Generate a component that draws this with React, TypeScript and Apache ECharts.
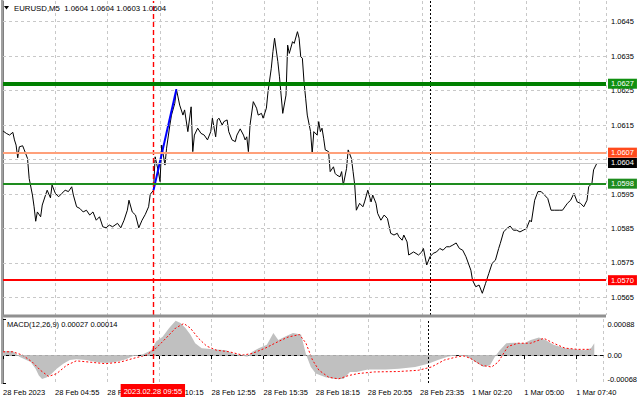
import React, { useEffect, useRef } from 'react';
import * as echarts from 'echarts';

// ---- data ----
const timeLabels = [
  '28 Feb 2023', '28 Feb 04:55', '28 Feb 07:35', '28 Feb 10:15', '28 Feb 12:55', '28 Feb 15:35',
  '28 Feb 18:15', '28 Feb 20:55', '28 Feb 23:35', '1 Mar 02:20', '1 Mar 05:00', '1 Mar 07:40',
];
const barsPerLabel = 32;
const priceTicks = [1.0565, 1.0575, 1.0585, 1.0595, 1.0605, 1.0615, 1.0625, 1.0635, 1.0645];
// 1.0605 is hidden behind the price boxes in the reference
const priceTickLabels = [1.0565, 1.0575, 1.0585, 1.0595, 1.0615, 1.0625, 1.0635, 1.0645];

const priceBars = [
  0, 2, 4, 6, 7, 8, 9, 10, 12, 13, 15, 16, 18, 19, 20, 21, 23, 24, 26, 27,
  29, 30, 32, 34, 36, 38, 40, 42, 43, 45, 47, 49, 51, 53, 55, 57, 59, 61, 63, 65,
  67, 70, 72, 74, 76, 77, 79, 81, 83, 85, 87, 89, 90, 92, 93, 95, 96, 97, 99, 100,
  102, 103, 105, 106, 108, 110, 111, 113, 115, 116, 117, 119, 121, 123, 125, 127, 128, 130, 131, 132,
  134, 135, 137, 138, 140, 142, 143, 145, 147, 148, 149, 150, 151, 153, 155, 156, 158, 159, 161, 162,
  164, 165, 166, 168, 169, 171, 173, 174, 175, 177, 178, 180, 181, 182, 183, 184, 185, 186, 188, 189,
  190, 192, 193, 194, 195, 196, 197, 199, 200, 202, 203, 204, 206, 207, 208, 210, 211, 213, 214, 215,
  216, 218, 220, 221, 223, 225, 226, 228, 229, 231, 233, 235, 237, 239, 241, 242, 244, 245, 247, 248,
  251, 254, 256, 257, 259, 261, 263, 265, 267, 269, 271, 273, 275, 277, 279, 281, 283, 286, 287, 289,
  291, 293, 295, 297, 299, 301, 303, 304, 306, 308, 310, 312, 314, 316, 318, 320, 322, 323, 325, 327,
  329, 331, 333, 335, 337, 340, 342, 345, 347, 349, 351, 353, 355, 357, 358, 360, 361, 363,
];
const priceValues = [
  1.06133, 1.06126, 1.06121, 1.06129, 1.06107, 1.06092, 1.06055, 1.06087, 1.0609, 1.06078,
  1.06053, 1.05995, 1.05947, 1.05913, 1.05871, 1.05898, 1.05884, 1.05918, 1.05947, 1.05961,
  1.05939, 1.05976, 1.05952, 1.05942, 1.05952, 1.05961, 1.05957, 1.05971, 1.05947, 1.05913,
  1.05908, 1.05898, 1.05903, 1.05889, 1.05898, 1.05874, 1.05884, 1.05855, 1.05852, 1.0586,
  1.05855, 1.05865, 1.05852, 1.05874, 1.05903, 1.05932, 1.05898, 1.05889, 1.05852, 1.05874,
  1.05891, 1.05913, 1.05949, 1.05961, 1.06058, 1.06015, 1.05986, 1.06092, 1.06034, 1.06083,
  1.0615, 1.06179, 1.06213, 1.06254, 1.06208, 1.06179, 1.06194, 1.06131, 1.06203, 1.06073,
  1.06121, 1.06141, 1.06126, 1.06121, 1.06107, 1.06131, 1.0617, 1.06116, 1.06165, 1.0617,
  1.0615, 1.0616, 1.06165, 1.06131, 1.06107, 1.06102, 1.06121, 1.06139, 1.06121, 1.06107,
  1.06116, 1.06073, 1.0615, 1.06218, 1.06199, 1.06179, 1.06184, 1.0617, 1.06199, 1.06247,
  1.06315, 1.06363, 1.06402, 1.06334, 1.0629, 1.06184, 1.06237, 1.06382, 1.06358, 1.06392,
  1.06387, 1.06421, 1.06402, 1.06348, 1.06344, 1.06276, 1.06228, 1.06179, 1.06131, 1.06068,
  1.06131, 1.06121, 1.0616, 1.06131, 1.06141, 1.06112, 1.06078, 1.06073, 1.06015, 1.06029,
  1.0601, 1.06005, 1.06, 1.06015, 1.05976, 1.06024, 1.06078, 1.06053, 1.06015, 1.05976,
  1.05903, 1.05923, 1.05913, 1.05927, 1.05961, 1.05927, 1.05947, 1.05923, 1.05894, 1.05874,
  1.05889, 1.05879, 1.05836, 1.05831, 1.05836, 1.05826, 1.05816, 1.05831, 1.05811, 1.05773,
  1.05782, 1.05773, 1.05782, 1.05792, 1.05744, 1.05768, 1.05778, 1.05782, 1.05792, 1.05787,
  1.05797, 1.05797, 1.05802, 1.05808, 1.05792, 1.05787, 1.05768, 1.05729, 1.057, 1.05681,
  1.05686, 1.05662, 1.05691, 1.0572, 1.05749, 1.05758, 1.05792, 1.05807, 1.0584, 1.0585,
  1.05857, 1.05845, 1.05845, 1.0584, 1.05845, 1.0585, 1.05874, 1.05869, 1.05932, 1.05957,
  1.05957, 1.05947, 1.05937, 1.05903, 1.05903, 1.05903, 1.05903, 1.05923, 1.05932, 1.05952,
  1.05927, 1.05923, 1.05913, 1.05932, 1.05971, 1.05981, 1.0602, 1.06039,
];

const trendBars = [92, 106];
const trendValues = [1.05961, 1.06254];

const levelValues = [1.0627, 1.0607, 1.0604, 1.0598, 1.057];
const selectedBar = 92;
const selectedTimeLabel = '2023.02.28 09:55';
const dayBreakBar = 261;

const macdBars = [
  0, 6, 10, 17, 20, 22, 24, 27, 30, 33, 37, 41, 45, 51, 57, 63, 69, 75, 80, 86,
  91, 94, 98, 102, 106, 109, 112, 115, 118, 122, 129, 137, 141, 145, 150, 153, 157, 162, 166, 169,
  173, 178, 183, 186, 189, 192, 198, 204, 209, 213, 217, 224, 235, 243, 253, 261, 267, 273, 279, 285,
  290, 295, 299, 302, 305, 309, 314, 320, 324, 329, 333, 338, 345, 351, 357, 361, 363,
];
const macdValues = [
  0.0001, 0.0001, -0.00004, -0.00017, -0.00033, -0.0005, -0.00058, -0.00054, -0.00045, -0.00033,
  -0.00021, -0.00012, -0.0001, -0.00012, -0.00017, -0.00019, -0.00017, -0.00011, -0.00002, 0.00002,
  0.00012, 0.00033, 0.00045, 0.00066, 0.00084, 0.00078, 0.00066, 0.0005, 0.00029, 0.00017,
  0.00014, 0.00012, 0.00004, 0, -0.00004, 0.00008, 0.00017, 0.00025, 0.00054, 0.00037,
  0.00045, 0.00054, 0.0005, 0.00002, -0.00029, -0.00045, -0.00054, -0.00058, -0.00058, -0.00041,
  -0.00041, -0.00035, -0.00035, -0.00033, -0.00029, -0.00021, -0.00012, -0.00004, 0, -0.00004,
  -0.00017, -0.00029, -0.00025, -0.00004, 0.00012, 0.00029, 0.0003, 0.00029, 0.00037, 0.00043,
  0.00037, 0.00025, 0.00017, 0.00014, 0.00012, 0.00017, 0.00029,
];
const signalBars = [
  0, 6, 12, 18, 23, 28, 33, 39, 45, 53, 63, 72, 80, 88, 94, 100, 106, 111, 115, 120,
  125, 131, 139, 147, 153, 161, 169, 175, 182, 186, 190, 194, 200, 206, 212, 218, 228, 243, 255, 263,
  271, 279, 283, 287, 294, 300, 304, 310, 316, 324, 332, 338, 345, 353, 361,
];
const signalValues = [
  0.00008, 0.00008, 0, -0.00017, -0.00037, -0.00052, -0.00045, -0.00025, -0.00014, -0.00017,
  -0.00021, -0.00017, -0.00008, 0, 0.00017, 0.00041, 0.00066, 0.00077, 0.00066, 0.00041,
  0.00022, 0.00012, 0.00008, 0, 0.00004, 0.00017, 0.00033, 0.00044, 0.0005, 0.00029,
  -0.00012, -0.00037, -0.00054, -0.00058, -0.0005, -0.00045, -0.00041, -0.0004, -0.00037, -0.00029,
  -0.00012, -0.00004, -0.00002, -0.00008, -0.00025, -0.00029, -0.00017, 0.00021, 0.00029, 0.00029,
  0.00041, 0.00029, 0.00017, 0.00014, 0.00014,
];
const macdTicks = [-0.00068, 0, 0.00088];

const titleText = 'EURUSD,M5  1.0604 1.0604 1.0603 1.0604';
const macdTitle = 'MACD(12,26,9) 0.00027 0.00014';

// ---- styles ----
const FONT = 'Liberation Sans';
const FS = 7.5;
const levelLineColors = ['#008000', '#FFA07A', '#C8C8C8', '#1E8C1E', '#FF0000'];
const levelLineWidths = [4, 2, 1, 2, 2];
const levelBoxColors = ['#109010', '#FF4A1C', '#000000', '#1E8C1E', '#FF0000'];
const RED_DASH = { color: '#FF0000', type: [5, 3], width: 1.4, opacity: 1 };
const BLACK_DOT = { color: '#000000', type: [2, 2], width: 1 };

const zip = (xs: number[], ys: number[]) => xs.map((x, i) => [x, ys[i]]);

export default function App() {
  const ref = useRef<HTMLDivElement>(null);

  useEffect(() => {
    if (!ref.current) return;
    const chart = echarts.init(ref.current, null, { renderer: 'svg' });

    const xMax = 368.6;
    const xBase = (gridIndex: number, showLabels: boolean) => ({
      type: 'value',
      gridIndex,
      min: 0,
      max: xMax,
      interval: barsPerLabel,
      axisLine: { show: showLabels, lineStyle: { color: '#000', width: 1 } },
      axisTick: { show: showLabels, length: 4, lineStyle: { color: '#000' } },
      axisLabel: {
        show: showLabels,
        align: 'left',
        margin: 5,
        fontSize: FS,
        fontFamily: FONT,
        color: '#000',
        showMaxLabel: false,
        formatter: (v: number) => {
          const i = Math.round(v / barsPerLabel);
          return Math.abs(v - i * barsPerLabel) < 1e-6 && timeLabels[i] ? timeLabels[i] : '';
        },
      },
      splitLine: { show: true, lineStyle: { color: '#C8C8C8', type: [3, 3], width: 1 } },
    });

    const vLine = (name: string, xi: number, yi: number, bar: number, style: any, z: number) => ({
      name,
      type: 'line',
      xAxisIndex: xi,
      yAxisIndex: yi,
      data: [],
      silent: true,
      z,
      itemStyle: { color: style.color },
      lineStyle: { color: style.color },
      markLine: {
        silent: true,
        animation: false,
        precision: 6,
        symbol: ['none', 'none'],
        label: { show: false },
        lineStyle: style,
        data: [{ xAxis: bar, lineStyle: style }],
      },
    });

    const option: any = {
      animation: false,
      backgroundColor: '#fff',
      textStyle: { fontFamily: FONT },
      grid: [
        { left: 3, top: 1, width: 603, height: 314 },
        { left: 3, top: 319, width: 603, height: 64 },
      ],
      xAxis: [xBase(0, false), xBase(1, true)],
      yAxis: [
        {
          type: 'value',
          gridIndex: 0,
          position: 'right',
          min: 1.05599,
          max: 1.0651,
          axisLine: { show: true, lineStyle: { color: '#808080' } },
          axisTick: { show: true, length: 3, customValues: priceTicks, lineStyle: { color: '#000' } },
          axisLabel: {
            customValues: priceTickLabels,
            formatter: (v: number) => v.toFixed(4),
            margin: 5,
            fontSize: FS,
            fontFamily: FONT,
            color: '#000',
          },
          splitLine: { show: false },
        },
        {
          type: 'value',
          gridIndex: 1,
          position: 'right',
          min: -0.00068,
          max: 0.00088,
          axisLine: { show: true, lineStyle: { color: '#808080' } },
          axisTick: { show: true, length: 3, customValues: macdTicks, lineStyle: { color: '#000' } },
          axisLabel: {
            customValues: macdTicks,
            margin: 4,
            fontSize: FS,
            fontFamily: FONT,
            color: '#000',
            formatter: (v: number) =>
              Math.abs(v) < 1e-9 ? '{m|0.00}' : v > 0 ? `{t|${v.toFixed(5)}}` : `{b|${v.toFixed(5)}}`,
            rich: {
              t: { padding: [10, 0, 0, 0], fontSize: FS, fontFamily: FONT, color: '#000' },
              b: { padding: [0, 0, 8, 0], fontSize: FS, fontFamily: FONT, color: '#000' },
              m: { fontSize: FS, fontFamily: FONT, color: '#000' },
            },
          },
          splitLine: { show: false },
        },
      ],
      series: [
        {
          name: 'grid',
          type: 'line',
          xAxisIndex: 0,
          yAxisIndex: 0,
          data: [],
          silent: true,
          z: 1,
          markLine: {
            silent: true,
            animation: false,
            precision: 6,
            symbol: ['none', 'none'],
            label: { show: false },
            lineStyle: { color: '#C8C8C8', type: [3, 3], width: 1 },
            data: priceTicks.map((v) => ({ yAxis: v })),
          },
        },
        {
          name: 'EURUSD',
          type: 'line',
          xAxisIndex: 0,
          yAxisIndex: 0,
          data: zip(priceBars, priceValues),
          showSymbol: false,
          symbol: 'none',
          lineStyle: { color: '#000', width: 1 },
          z: 3,
          silent: true,
        },
        {
          name: 'trend',
          type: 'line',
          xAxisIndex: 0,
          yAxisIndex: 0,
          data: zip(trendBars, trendValues),
          symbol: 'none',
          lineStyle: { color: '#0000FF', width: 2 },
          z: 4,
          silent: true,
        },
        vLine('selectedMain', 0, 0, selectedBar, RED_DASH, 5),
        vLine('dayBreakMain', 0, 0, dayBreakBar, BLACK_DOT, 5),
        {
          name: 'levels',
          type: 'line',
          xAxisIndex: 0,
          yAxisIndex: 0,
          data: [],
          clip: false,
          silent: true,
          z: 6,
          markLine: {
            silent: true,
            animation: false,
            precision: 6,
            symbol: ['none', 'none'],
            data: levelValues.map((v, i) => ({
              yAxis: v,
              lineStyle: { color: levelLineColors[i], width: levelLineWidths[i], type: 'solid' },
              label: {
                show: true,
                position: 'end',
                distance: 2,
                formatter: v.toFixed(4),
                backgroundColor: levelBoxColors[i],
                color: '#fff',
                padding: [1, 3, 1, 3],
                lineHeight: 8,
                fontSize: FS,
                fontFamily: FONT,
              },
            })),
          },
        },
        {
          name: 'MACD',
          type: 'line',
          xAxisIndex: 1,
          yAxisIndex: 1,
          data: zip(macdBars, macdValues),
          symbol: 'none',
          lineStyle: { width: 0, color: '#C0C0C0' },
          areaStyle: { color: '#C0C0C0', opacity: 1 },
          z: 2,
          silent: true,
        },
        {
          name: 'Signal',
          type: 'line',
          xAxisIndex: 1,
          yAxisIndex: 1,
          data: zip(signalBars, signalValues),
          symbol: 'none',
          lineStyle: { color: '#FF0000', width: 1, type: [2, 2] },
          z: 3,
          silent: true,
        },
        {
          name: 'macdZero',
          type: 'line',
          xAxisIndex: 1,
          yAxisIndex: 1,
          data: [],
          silent: true,
          z: 4,
          markLine: {
            silent: true,
            animation: false,
            precision: 6,
            symbol: ['none', 'none'],
            label: { show: false },
            lineStyle: { color: '#A8A8A8', type: [3, 3], width: 1 },
            data: [{ yAxis: 0 }],
          },
        },
        vLine('dayBreakMacd', 1, 1, dayBreakBar, BLACK_DOT, 5),
        {
          name: 'selectedMacd',
          type: 'line',
          xAxisIndex: 1,
          yAxisIndex: 1,
          data: [],
          clip: false,
          silent: true,
          z: 6,
          itemStyle: { color: '#FF0000' },
          lineStyle: { color: '#FF0000' },
          markLine: {
            silent: true,
            animation: false,
            precision: 6,
            symbol: ['none', 'none'],
            lineStyle: RED_DASH,
            label: {
              show: true,
              position: 'start',
              distance: 1,
              formatter: selectedTimeLabel,
              backgroundColor: '#FF0000',
              color: '#fff',
              padding: [3, 3, 2, 3],
              fontSize: FS,
              fontFamily: FONT,
            },
            data: [[{ coord: [selectedBar, macdTicks[0]], lineStyle: RED_DASH }, { coord: [selectedBar, macdTicks[2]] }]],
          },
        },
      ],
      graphic: [
        { type: 'rect', z: 100, shape: { x: 1, y: 0, width: 2, height: 384 }, style: { fill: '#A0A0A0' } },
        { type: 'rect', z: 100, shape: { x: 3, y: 314.5, width: 603, height: 3 }, style: { fill: '#909090' } },
        { type: 'polygon', z: 100, shape: { points: [[4, 6], [9, 6], [6.5, 9.5]] }, style: { fill: '#000' } },
        {
          type: 'text', z: 100, x: 14, y: 8.5,
          style: { text: titleText, fill: '#000', font: `${FS + 0.3}px "${FONT}"`, verticalAlign: 'middle' },
        },
        {
          type: 'text', z: 100, x: 7, y: 324.5,
          style: { text: macdTitle, fill: '#000', font: `${FS}px "${FONT}"`, verticalAlign: 'middle' },
        },
      ],
    };

    chart.setOption(option);
    return () => chart.dispose();
  }, []);

  return (
    <div
      ref={ref}
      style={{ position: 'fixed', left: 0, top: 0, width: 640, height: 401, background: '#fff' }}
    />
  );
}
